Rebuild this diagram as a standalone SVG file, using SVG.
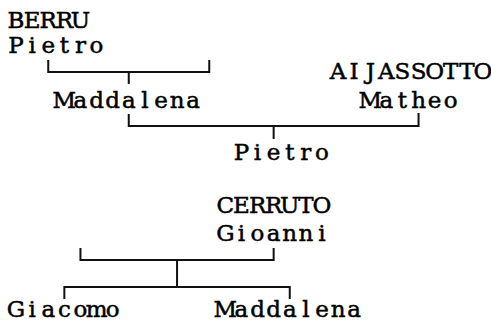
<svg xmlns="http://www.w3.org/2000/svg" width="491" height="326" viewBox="0 0 491 326">
<style>
.t{font-family:"DejaVu Serif","Liberation Serif",serif;font-size:23px;fill:#000;stroke:#000;stroke-width:0.5;text-anchor:middle}
.c{fill:none;stroke:#111;stroke-width:2;stroke-linecap:butt;stroke-linejoin:miter}
</style>
<rect width="491" height="326" fill="#fff"/>
<g id="connectors" class="c">
<path d="M48.25 60V72H209.25V60M128.75 72V84"/>
<path d="M128.75 114V126H418.55V113M273.65 126V139"/>
<path d="M80.45 248V260H273.65V248M177.05 260V287"/>
<path d="M64.35 299V287H289.75V299"/>
</g>
<g id="berru-pietro"><text class="t" y="28" x="16.05 32.15 48.25 64.35 80.45">BERRU</text><text class="t" y="53" x="16.05 32.15 48.25 64.35 80.45 96.55">Pietro</text></g>
<g id="maddalena-1"><text class="t" y="108" x="64.35 80.45 96.55 112.65 128.75 144.85 160.95 177.05 193.15">Maddalena</text></g>
<g id="aijassotto-matheo"><text class="t" y="79" x="338.05 354.15 370.25 386.35 402.45 418.55 434.65 450.75 466.85 482.95">AIJASSOTTO</text><text class="t" y="108" x="370.25 386.35 402.45 418.55 434.65 450.75">Matheo</text></g>
<g id="pietro-2"><text class="t" y="160" x="241.45 257.55 273.65 289.75 305.85 321.95">Pietro</text></g>
<g id="cerruto-gioanni"><text class="t" y="213" x="225.35 241.45 257.55 273.65 289.75 305.85 321.95">CERRUTO</text><text class="t" y="241" x="225.35 241.45 257.55 273.65 289.75 305.85 321.95">Gioanni</text></g>
<g id="giacomo"><text class="t" y="317" x="16.05 32.15 48.25 64.35 80.45 96.55 112.65">Giacomo</text></g>
<g id="maddalena-2"><text class="t" y="317" x="225.35 241.45 257.55 273.65 289.75 305.85 321.95 338.05 354.15">Maddalena</text></g>
</svg>
